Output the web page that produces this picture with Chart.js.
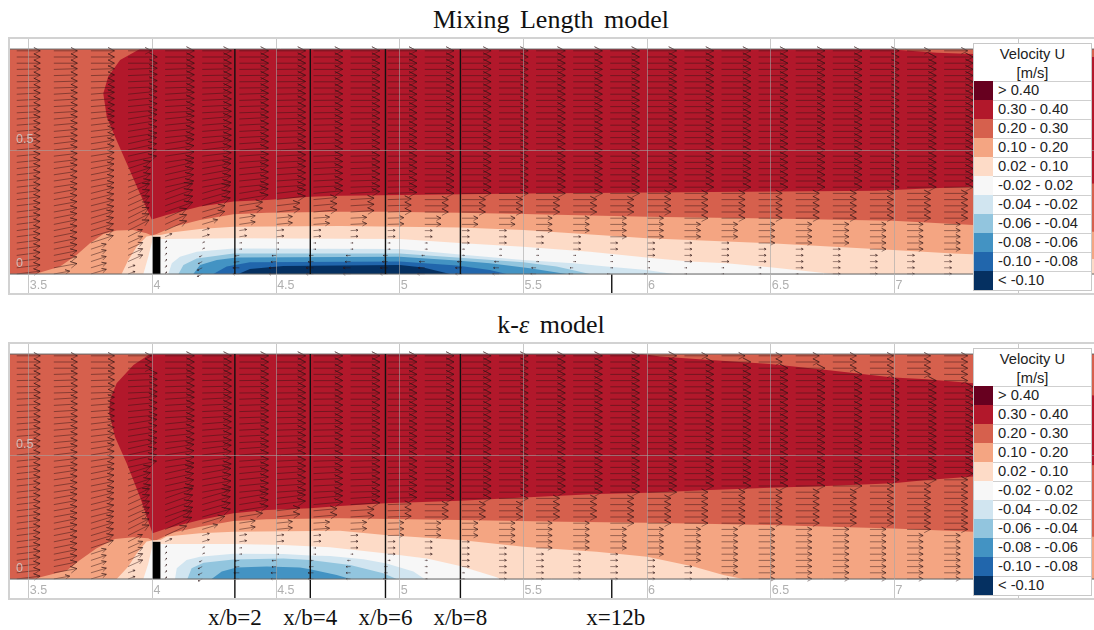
<!DOCTYPE html>
<html>
<head>
<meta charset="utf-8">
<script src="https://cdn.jsdelivr.net/npm/chart.js@4"></script>
<style>
  body { margin: 0; background: #fff; width: 1094px; height: 630px; overflow: hidden; position: relative; }
  canvas { position: absolute; left: 9px; filter: blur(0.45px); }
  .frame { position: absolute; left: 8px; width: 1086px; height: 254px; border: 2px solid #d2d2d2; border-right: 0; box-sizing: content-box; margin-top: -2px; pointer-events: none; }
  .title { position: absolute; left: 0; width: 1102px; text-align: center; font: 26px "Liberation Serif", serif; word-spacing: 4px; color: #111; }
  .station { position: absolute; top: 605px; font: 23px "Liberation Serif", serif; color: #111; transform: translateX(-50%); white-space: nowrap; }
  .legend { position: absolute; left: 973px; width: 119px; background: #fff; border: 1px solid #c8c8c8; box-sizing: border-box; font: 14.7px "Liberation Sans", sans-serif; color: #222; }
  .legend .head { height: 37px; text-align: center; line-height: 19px; padding-top: 1px; box-sizing: border-box; }
  .legend .row { height: 19px; box-sizing: border-box; border-top: 1px solid #cfcfcf; display: flex; line-height: 17px; }
  .legend .sw { width: 19px; height: 19px; margin-top: -1px; margin-right: 5px; flex: none; }
</style>
</head>
<body>
<div class="title" style="top:5px">Mixing Length model</div>
<div class="title" style="top:310px">k-<i>ε</i> model</div>
<canvas id="mixing" width="1085" height="254" style="top:39px"></canvas>
<canvas id="keps" width="1085" height="254" style="top:344px"></canvas>
<div class="frame" style="top:39px"></div>
<div class="frame" style="top:344px"></div>
<div class="legend" id="legendTop" style="top:43px"></div>
<div class="legend" id="legendBottom" style="top:348px"></div>

<script>
const titleLegend = ["Velocity U", "[m/s]"];
const bandLabels = ["> 0.40", "0.30 - 0.40", "0.20 - 0.30", "0.10 - 0.20", "0.02 - 0.10", "-0.02 - 0.02",
  "-0.04 - -0.02", "-0.06 - -0.04", "-0.08 - -0.06", "-0.10 - -0.08", "< -0.10"];
const bandColors = ["#67001f", "#b2182b", "#d6604d", "#f4a582", "#fddbc7", "#f7f7f7",
  "#d1e5f0", "#92c5de", "#4393c3", "#2166ac", "#053061"];
// arrow length (x units) for each band above
const bandArrow = [0.13, 0.118, 0.095, 0.065, 0.03, 0.01, -0.012, -0.018, -0.022, -0.026, -0.03];

const xTicks = [3.5, 4, 4.5, 5, 5.5, 6, 6.5, 7, 7.5];
const xTickLabels = ["3.5", "4", "4.5", "5", "5.5", "6", "6.5", "7", "7.5"];
const yTicks = [0, 0.5];
const yTickLabels = ["0", "0.5"];
const stationX = [4.333, 4.638, 4.942, 5.245, 5.857];
const stationLabels = ["x/b=2", "x/b=4", "x/b=6", "x/b=8", "x=12b"];
const weirX = [4, 4.032, 4.032, 4];
const weirY = [0, 0, 0.15, 0.15];
const bedTop = 0.907;

// Mixing length contours, each a closed outline
const mlBase = [[3.42,0],[7.81,0],[7.81,0.907],[3.42,0.907]];
const mlRed = [[3.949,0.907],[3.869,0.863],[3.821,0.796],[3.801,0.728],[3.815,0.634],[3.848,0.554],[3.896,0.446],[3.949,0.325],[3.997,0.22],[4.057,0.238],[4.192,0.272],[4.327,0.292],[4.462,0.298],[4.637,0.312],[4.758,0.316],[5.5,0.325],[6,0.329],[6.928,0.336],[7.13,0.345],[7.32,0.352],[7.81,0.365],[7.81,0.875],[7.32,0.887],[7.17,0.892],[7.02,0.903],[6.98,0.907]];
const mlPeach = [[3.525,0],[3.626,0.03],[3.693,0.077],[3.747,0.124],[3.801,0.161],[3.855,0.175],[3.922,0.177],[3.976,0.164],[3.997,0.155],[4.017,0.161],[4.084,0.191],[4.192,0.218],[4.327,0.241],[4.462,0.247],[4.758,0.251],[4.94,0.251],[5.244,0.247],[5.5,0.242],[6,0.231],[6.497,0.224],[6.995,0.215],[7.319,0.198],[7.81,0.17],[7.81,0]];
const mlPale = [[3.875,0],[3.902,0.056],[3.936,0.11],[3.976,0.151],[4,0.155],[4.032,0.157],[4.084,0.168],[4.192,0.181],[4.327,0.191],[4.758,0.194],[5.244,0.188],[5.5,0.177],[6,0.144],[6.497,0.124],[6.995,0.097],[7.238,0.083],[7.81,0.06],[7.81,0]];
const mlWhite = [[3.963,0],[3.983,0.07],[4,0.137],[4.034,0.141],[4.327,0.144],[5,0.141],[5.256,0.124],[5.499,0.11],[5.769,0.09],[6.038,0.063],[6.173,0.05],[6.321,0.043],[6.497,0.027],[6.726,0.003],[6.753,0]];
const mlBlue1 = [[4.064,0],[4.078,0.043],[4.111,0.07],[4.179,0.09],[4.327,0.103],[5,0.101],[5.243,0.079],[5.499,0.056],[5.701,0.043],[5.836,0.03],[5.998,0.016],[6.106,0]];
const mlBlue2 = [[4.105,0],[4.125,0.036],[4.179,0.063],[4.327,0.083],[5,0.083],[5.23,0.067],[5.499,0.047],[5.634,0.03],[5.769,0]];
const mlBlue3 = [[4.165,0],[4.192,0.036],[4.26,0.056],[4.34,0.067],[5,0.07],[5.23,0.054],[5.364,0.043],[5.526,0.023],[5.674,0]];
const mlBlue4 = [[4.246,0],[4.3,0.03],[4.394,0.047],[5,0.05],[5.23,0.034],[5.364,0.016],[5.432,0]];
const mlBlue5 = [[4.347,0],[4.394,0.02],[4.529,0.032],[5,0.036],[5.095,0.026],[5.203,0]];

// k-epsilon contours
const keBase = [[3.42,0],[7.81,0],[7.81,0.907],[3.42,0.907]];
const keRed = [[3.99,0.907],[3.923,0.863],[3.855,0.789],[3.828,0.722],[3.825,0.668],[3.848,0.574],[3.896,0.466],[3.949,0.332],[4,0.184],[4.057,0.204],[4.192,0.238],[4.327,0.265],[4.462,0.278],[4.637,0.285],[4.758,0.294],[4.94,0.305],[5.244,0.316],[5.5,0.329],[5.796,0.343],[6,0.348],[6.254,0.359],[6.497,0.368],[6.726,0.375],[6.995,0.386],[7.13,0.399],[7.319,0.413],[7.81,0.46],[7.81,0.74],[7.319,0.789],[7.13,0.805],[6.995,0.813],[6.726,0.843],[6.497,0.867],[6.254,0.883],[6.052,0.897],[5.98,0.907]];
const kePeach = [[3.518,0],[3.653,0.034],[3.707,0.077],[3.774,0.124],[3.848,0.161],[3.922,0.168],[3.983,0.164],[4,0.155],[4.017,0.157],[4.084,0.187],[4.192,0.211],[4.327,0.234],[4.462,0.241],[4.758,0.245],[5.244,0.238],[5.662,0.231],[6,0.227],[6.497,0.218],[6.995,0.204],[7.319,0.191],[7.81,0.17],[7.81,0]];
const kePale = [[3.855,0],[3.902,0.05],[3.936,0.103],[3.976,0.151],[4,0.155],[4.032,0.157],[4.057,0.171],[4.192,0.184],[4.327,0.191],[4.758,0.195],[4.94,0.177],[5.244,0.157],[5.5,0.13],[5.796,0.11],[6,0.09],[6.187,0.05],[6.308,0.016],[6.389,0]];
const keWhite = [[3.963,0],[3.983,0.063],[4,0.135],[4.034,0.141],[4.327,0.141],[4.529,0.137],[4.718,0.128],[4.947,0.103],[5.109,0.083],[5.244,0.052],[5.392,0.007],[5.405,0]];
const keBlue1 = [[4.091,0],[4.098,0.043],[4.138,0.077],[4.192,0.09],[4.327,0.102],[4.529,0.101],[4.637,0.095],[4.718,0.093],[4.853,0.08],[4.947,0.063],[5.055,0.03],[5.1,0]];
const keBlue2 = [[4.141,0],[4.158,0.043],[4.206,0.066],[4.327,0.079],[4.529,0.083],[4.637,0.077],[4.799,0.056],[4.933,0.023],[4.987,0]];
const keBlue3 = [[4.239,0],[4.28,0.03],[4.34,0.046],[4.462,0.05],[4.596,0.046],[4.637,0.039],[4.745,0.016],[4.799,0]];

// velocity arrows: tail positions and rise/run read at heights 0, 0.1, ... 0.9
const arrowCols = [3.451,3.601,3.751,3.901,4.051,4.201,4.351,4.501,4.651,4.801,4.951,5.101,5.251,5.401,5.551,5.701,5.851,6.001,6.151,6.301,6.451,6.601,6.751,6.901,7.051,7.201,7.351,7.501,7.651];
const arrowRows = [0,0.025,0.05,0.075,0.1,0.125,0.15,0.175,0.2,0.225,0.25,0.275,0.3,0.325,0.35,0.375,0.4,0.425,0.45,0.475,0.5,0.525,0.55,0.575,0.6,0.625,0.65,0.675,0.7,0.725,0.75,0.775,0.8,0.825,0.85,0.875,0.9];
const arrowTilt = [
  [0.12,0.13,0.13,0.12,0.11,0.10,0.08,0.05,0.02,0],
  [0.18,0.2,0.2,0.18,0.15,0.12,0.09,0.06,0.03,0],
  [0.3,0.33,0.3,0.25,0.2,0.16,0.12,0.08,0.03,0],
  [0.35,0.45,0.5,0.45,0.32,0.22,0.16,0.1,0.04,0],
  [1.5,1.5,0.45,0.35,0.22,0.15,0.1,0.06,0.03,0],
  [0.5,0.5,0.3,0.28,0.18,0.12,0.08,0.05,0.02,0],
  [0,0.1,0.15,0.16,0.1,0.07,0.05,0.03,0.01,0],
  [0,0.05,0.1,0.12,0.07,0.05,0.03,0.02,0.01,0],
  [0,0.03,0.07,0.09,0.05,0.03,0.02,0.01,0,0],
  [0,0.02,0.05,0.06,0.03,0.02,0.01,0,0,0],
  [0,0.01,0.03,0.03,0.02,0.01,0,0,0,0]
];

const mlContours = [[2, mlBase], [1, mlRed], [3, mlPeach], [4, mlPale], [5, mlWhite], [6, mlBlue1], [7, mlBlue2], [8, mlBlue3], [9, mlBlue4], [10, mlBlue5]];
const keContours = [[2, keBase], [1, keRed], [3, kePeach], [4, kePale], [5, keWhite], [6, keBlue1], [7, keBlue2], [8, keBlue3]];

const inside = (poly, x, y) => {
  let hit = false;
  for (let i = 0, j = poly.length - 1; i < poly.length; j = i++) {
    const [xi, yi] = poly[i], [xj, yj] = poly[j];
    if ((yi > y) !== (yj > y) && x < ((xj - xi) * (y - yi)) / (yj - yi) + xi) hit = !hit;
  }
  return hit;
};

const bandAt = (contours, x, y) => {
  for (let i = contours.length - 1; i >= 0; i--) {
    if (inside(contours[i][1], x, y)) return contours[i][0];
  }
  return 2;
};

const arrowPoints = (contours) => {
  const pts = [];
  arrowCols.forEach((x, c) => {
    arrowRows.forEach((y) => {
      const len = bandArrow[bandAt(contours, x, y + 0.004)];
      const row = arrowTilt[c];
      const t = row ? row[Math.round(y * 10)] : 0;
      const n = Math.hypot(1, t);
      const dx = len / n, dy = (len * t) / n;
      const tip = { x: x + dx, y: y + dy };
      const bx = tip.x - dx * 0.27, by = tip.y - dy * 0.27;
      pts.push({ x, y }, tip, { x: bx - dy * 0.14, y: by + dx * 0.14 }, tip, { x: bx + dy * 0.14, y: by - dx * 0.14 }, { x: NaN, y: NaN });
    });
  });
  return pts;
};

const toXY = (poly) => poly.map(([x, y]) => ({ x, y }));
const yBottom = -0.0766, yTop = 0.9476;
const stripHeight = 19;

const makeChart = (id, contours, stationsToFrame) => {
  const datasets = contours.map(([band, poly], i) => ({
    data: toXY(poly),
    fill: "shape",
    backgroundColor: bandColors[band],
    borderWidth: 0,
    order: 100 - i,
  }));
  datasets.push({
    data: weirX.map((x, i) => ({ x, y: weirY[i] })),
    fill: "shape", backgroundColor: "#000", borderWidth: 0, order: 50,
  });
  datasets.push({
    data: arrowPoints(contours),
    borderColor: "rgba(45,20,20,0.62)", borderWidth: 0.75, order: 40, spanGaps: false, clip: false,
  });
  [0, bedTop].forEach((y) => {
    datasets.push({ data: [{ x: 3.42, y }, { x: 7.81, y }], borderColor: "#666", borderWidth: 1, order: 30, clip: false });
  });
  stationX.forEach((x, i) => {
    const from = stationsToFrame || i === 4 ? yBottom : 0;
    const to = i === 4 ? 0 : bedTop;
    datasets.push({ data: [{ x, y: from }, { x, y: to }], borderColor: "#111", borderWidth: 1.4, order: 20, clip: false });
  });

  return new Chart(document.getElementById(id), {
    type: "line",
    data: { datasets },
    options: {
      responsive: false,
      animation: false,
      events: [],
      layout: { padding: 0 },
      elements: { point: { radius: 0 }, line: { tension: 0 } },
      plugins: { legend: { display: false }, tooltip: { enabled: false } },
      scales: {
        x: {
          type: "linear", min: 3.4197, max: 7.807,
          afterBuildTicks: (s) => { s.ticks = xTicks.map((value) => ({ value })); },
          afterFit: (s) => { s.height = stripHeight; s.paddingLeft = 0; s.paddingRight = 0; },
          border: { display: false },
          grid: { color: "rgba(165,165,165,0.6)", z: 1, drawTicks: true, tickLength: stripHeight, tickColor: "#c8c8c8" },
          ticks: { z: 2, autoSkip: false, maxRotation: 0, align: "start", padding: -15, labelOffset: 1, color: "#b0b0b0", font: { family: "Liberation Sans", size: 12.5 }, callback: (v, i) => xTickLabels[i] },
        },
        y: {
          min: 0, max: yTop,
          afterBuildTicks: (s) => { s.ticks = yTicks.map((value) => ({ value })); },
          afterFit: (s) => { s.width = 0; s.paddingTop = 0; s.paddingBottom = 0; },
          border: { display: false },
          grid: { color: "rgba(165,165,165,0.6)", z: 1, drawTicks: false },
          ticks: { z: 2, mirror: true, padding: 7, labelOffset: -10, color: "rgba(205,205,205,0.85)", font: { family: "Liberation Sans", size: 12.5 }, callback: (v, i) => yTickLabels[i] },
        },
      },
    },
  });
};

const topChart = makeChart("mixing", mlContours, false);
makeChart("keps", keContours, true);

// colour key, same in both panels
["legendTop", "legendBottom"].forEach((id) => {
  const box = document.getElementById(id);
  box.innerHTML = `<div class="head">${titleLegend.join("<br>")}</div>` + bandLabels.map((label, i) =>
    `<div class="row"><div class="sw" style="background:${bandColors[i]}"></div>${label.replace("<", "&lt;")}</div>`).join("");
});

stationLabels.forEach((label, i) => {
  const el = document.createElement("div");
  el.className = "station";
  el.textContent = label;
  el.style.left = 9 + topChart.scales.x.getPixelForValue(stationX[i]) + (i === 4 ? 4 : 0) + "px";
  document.body.appendChild(el);
});
</script>
</body>
</html>
